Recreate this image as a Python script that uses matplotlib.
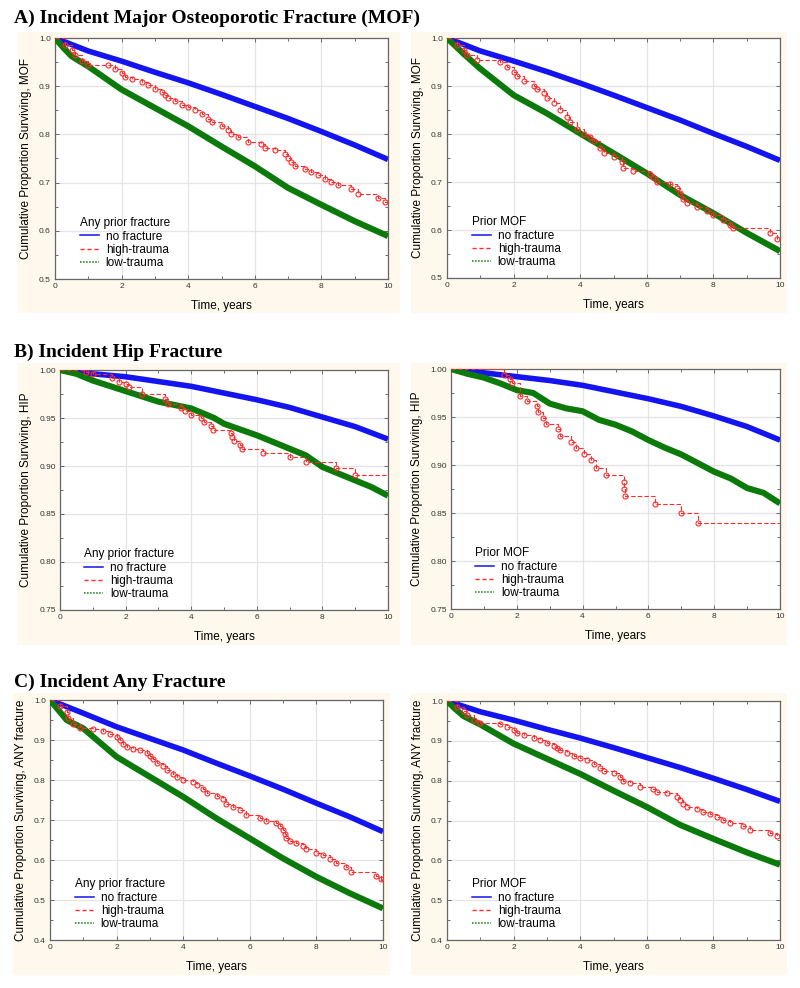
import numpy as np
import matplotlib
matplotlib.use('Agg')
import matplotlib.pyplot as plt
from matplotlib.lines import Line2D

plt.rcParams['font.family'] = ['Liberation Sans', 'DejaVu Sans']

# ---- data (time in years, cumulative proportion surviving) ----
yrs = [0, 1, 2, 3, 4, 5, 6, 7, 8, 9, 10]

# A) MOF, any prior fracture
a1_blue = [1.0, 0.973, 0.952, 0.929, 0.907, 0.883, 0.858, 0.833, 0.806, 0.778, 0.748]
a1_green_t = [0, 0.25, 0.5, 1, 2, 3, 4, 5, 6, 7, 8, 9, 10]
a1_green = [1.0, 0.98, 0.962, 0.941, 0.893, 0.855, 0.817, 0.775, 0.734, 0.689, 0.654, 0.620, 0.589]
a1_red_t = [0, 0.3, 0.5, 0.6, 0.8, 1.0, 1.6, 1.8, 2.0, 2.1, 2.3, 2.6, 2.8, 3.0, 3.2, 3.3, 3.4,
            3.6, 3.8, 4.0, 4.2, 4.4, 4.6, 4.7, 5.0, 5.2, 5.3, 5.5, 5.8, 6.2, 6.3, 6.6, 6.9, 7.0,
            7.1, 7.2, 7.5, 7.7, 7.9, 8.1, 8.3, 8.5, 8.9, 9.1, 9.7, 9.9, 10]
a1_red = [1.0, 0.985, 0.975, 0.965, 0.952, 0.945, 0.943, 0.935, 0.928, 0.920, 0.915, 0.908,
          0.902, 0.895, 0.888, 0.882, 0.876, 0.870, 0.862, 0.856, 0.851, 0.843, 0.832, 0.825,
          0.818, 0.810, 0.800, 0.795, 0.785, 0.780, 0.772, 0.768, 0.760, 0.752, 0.742, 0.735,
          0.728, 0.722, 0.716, 0.708, 0.702, 0.694, 0.686, 0.676, 0.668, 0.660, 0.660]

# A) MOF, prior MOF
a2_blue = [1.0, 0.973, 0.952, 0.930, 0.906, 0.881, 0.855, 0.829, 0.801, 0.774, 0.745]
a2_green_t = [0, 0.5, 1, 2, 3, 4, 5, 6, 7, 8, 9, 10]
a2_green = [1.0, 0.967, 0.936, 0.881, 0.843, 0.801, 0.760, 0.718, 0.673, 0.635, 0.594, 0.556]
a2_red_t = [0, 0.3, 0.5, 0.6, 0.9, 1.6, 1.8, 2.0, 2.1, 2.3, 2.6, 2.7, 2.9, 3.0, 3.2, 3.4, 3.6,
            3.7, 3.9, 4.1, 4.3, 4.4, 4.6, 4.7, 5.0, 5.25, 5.3, 5.6, 6.1, 6.2, 6.3, 6.7, 6.9, 7.0,
            7.1, 7.2, 7.5, 7.8, 8.0, 8.3, 8.5, 8.6, 9.7, 9.9, 10]
a2_red = [1.0, 0.985, 0.975, 0.965, 0.955, 0.950, 0.940, 0.930, 0.920, 0.910, 0.900, 0.893,
          0.885, 0.875, 0.865, 0.850, 0.835, 0.825, 0.810, 0.800, 0.793, 0.785, 0.770, 0.760,
          0.752, 0.742, 0.730, 0.722, 0.717, 0.710, 0.700, 0.695, 0.688, 0.678, 0.665, 0.657,
          0.648, 0.640, 0.632, 0.620, 0.610, 0.604, 0.593, 0.581, 0.581]

# B) Hip, any prior fracture
b1_blue = [1.0, 0.996, 0.993, 0.988, 0.983, 0.976, 0.969, 0.961, 0.951, 0.941, 0.928]
b1_green_t = [0, 0.5, 1, 2, 3, 4, 4.7, 5, 6, 7, 7.5, 8, 8.5, 9, 9.5, 10]
b1_green = [1.0, 0.996, 0.989, 0.978, 0.967, 0.960, 0.950, 0.944, 0.932, 0.918, 0.911, 0.899,
            0.892, 0.885, 0.878, 0.869]
b1_red_t = [0, 0.8, 1.0, 1.6, 1.8, 2.0, 2.1, 2.5, 3.2, 3.3, 3.7, 3.8, 4.0, 4.3, 4.4, 4.6, 4.65,
            5.2, 5.25, 5.3, 5.5, 5.55, 6.2, 7.0, 7.5, 8.4, 9.0, 10]
b1_red = [1.0, 0.998, 0.996, 0.992, 0.988, 0.985, 0.982, 0.975, 0.970, 0.965, 0.960, 0.957,
          0.953, 0.950, 0.946, 0.942, 0.938, 0.934, 0.930, 0.926, 0.922, 0.918, 0.914, 0.909,
          0.904, 0.898, 0.891, 0.891]

# B) Hip, prior MOF
b2_blue = [1.0, 0.996, 0.992, 0.988, 0.983, 0.976, 0.969, 0.961, 0.951, 0.940, 0.926]
b2_green_t = [0, 0.5, 1, 1.5, 2, 2.5, 3, 3.5, 4, 4.5, 5, 5.5, 6, 6.5, 7, 7.5, 8, 8.5, 9, 9.5, 10]
b2_green = [1.0, 0.995, 0.991, 0.985, 0.978, 0.975, 0.964, 0.959, 0.956, 0.947, 0.942, 0.935,
            0.926, 0.918, 0.911, 0.902, 0.893, 0.886, 0.876, 0.871, 0.860]
b2_red_t = [0, 1.6, 1.8, 1.85, 2.1, 2.3, 2.6, 2.65, 2.8, 2.9, 3.25, 3.3, 3.65, 3.8, 4.05, 4.25,
            4.4, 4.7, 5.25, 5.27, 5.3, 6.2, 7.0, 7.5, 10]
b2_red = [1.0, 0.994, 0.990, 0.985, 0.972, 0.967, 0.961, 0.955, 0.949, 0.943, 0.937, 0.930,
          0.924, 0.918, 0.911, 0.905, 0.897, 0.890, 0.882, 0.875, 0.868, 0.859, 0.850, 0.840,
          0.840]

# C) Any fracture, any prior fracture
c1_blue = [1.0, 0.967, 0.933, 0.904, 0.875, 0.842, 0.810, 0.777, 0.742, 0.708, 0.671]
c1_green_t = [0, 0.5, 1, 2, 3, 4, 5, 6, 7, 8, 9, 10]
c1_green = [1.0, 0.950, 0.929, 0.858, 0.808, 0.758, 0.704, 0.654, 0.604, 0.558, 0.517, 0.479]
c1_red_t = [0, 0.3, 0.5, 0.55, 0.7, 0.9, 1.3, 1.6, 1.8, 2.0, 2.1, 2.2, 2.3, 2.5, 2.7, 2.9, 3.0,
            3.1, 3.2, 3.4, 3.5, 3.7, 3.8, 4.0, 4.3, 4.4, 4.6, 4.7, 5.0, 5.2, 5.3, 5.5, 5.7, 5.9,
            6.3, 6.5, 6.8, 6.9, 7.0, 7.05, 7.1, 7.2, 7.4, 7.6, 7.7, 8.0, 8.2, 8.4, 8.6, 8.9, 9.05,
            9.8, 9.95, 10]
c1_red = [1.0, 0.985, 0.970, 0.955, 0.940, 0.930, 0.927, 0.922, 0.915, 0.908, 0.900, 0.890,
          0.882, 0.878, 0.875, 0.868, 0.860, 0.852, 0.843, 0.835, 0.826, 0.815, 0.808, 0.800,
          0.795, 0.788, 0.778, 0.768, 0.760, 0.752, 0.740, 0.733, 0.725, 0.712, 0.705, 0.698,
          0.692, 0.685, 0.675, 0.665, 0.655, 0.648, 0.642, 0.635, 0.628, 0.618, 0.612, 0.602,
          0.592, 0.582, 0.570, 0.560, 0.552, 0.552]

# C) Any fracture, prior MOF (same curves as panel A, any prior fracture, in the source)
c2_blue, c2_green_t, c2_green = a1_blue, a1_green_t, a1_green
c2_red_t, c2_red = a1_red_t, a1_red

BLUE = '#1414f0'
GREEN = '#0b7a0b'
RED = '#ff2a2a'
CREAM = '#fef9ec'

W, H = 800, 988
fig = plt.figure(figsize=(W / 100, H / 100), dpi=100)
fig.patch.set_facecolor('white')


def px_axes(x0, y0, x1, y1):
    return fig.add_axes([x0 / W, 1 - y1 / H, (x1 - x0) / W, (y1 - y0) / H])


def cream(x0, y0, x1, y1):
    bg = px_axes(x0, y0, x1, y1)
    bg.set_facecolor(CREAM)
    bg.set_xticks([])
    bg.set_yticks([])
    for s in bg.spines.values():
        s.set_visible(False)
    bg.set_zorder(-5)


def panel(box, bg, blue, gt, green, rt, red, ylim, ystep, ylabel, legtitle):
    cream(*bg)
    ax = px_axes(*box)
    ax.plot(yrs, blue, color=BLUE, lw=4.0, solid_capstyle='butt', zorder=3)
    ax.plot(gt, green, color=GREEN, lw=4.4, solid_capstyle='butt', zorder=4)
    ax.plot(rt, red, color=RED, lw=0.8, ls=(0, (4, 2)), drawstyle='steps-post', zorder=5)
    ax.plot(rt[1:-1], red[1:-1], ls='none', marker='o', ms=3.6, mfc='none', mec=RED,
            mew=0.8, zorder=6)
    ax.set_xlim(0, 10)
    ax.set_ylim(*ylim)
    ax.set_xticks([0, 2, 4, 6, 8, 10])
    yt = np.arange(ylim[0], ylim[1] + ystep / 2, ystep)
    ax.set_yticks(yt)
    fmt = '%.2f' if ystep < 0.1 else '%.1f'
    ax.set_yticklabels([fmt % v for v in yt])
    ax.set_xticks(np.arange(0, 10.5, 1), minor=True)
    ax.set_yticks(np.arange(ylim[0], ylim[1] + 1e-9, ystep / 2), minor=True)
    ax.grid(True, which='major', color='#e4e4e4', lw=0.9)
    ax.set_axisbelow(True)
    ax.tick_params(which='both', direction='in', top=True, right=True, labelsize=6,
                   colors='#555555', labelcolor='#333333', pad=3)
    ax.tick_params(which='major', length=3, width=0.6)
    ax.tick_params(which='minor', length=2, width=0.6)
    for s in ax.spines.values():
        s.set_color('#666666')
        s.set_linewidth(0.9)
    ax.set_xlabel('Time, years', fontsize=8.5, labelpad=7)
    ax.set_ylabel(ylabel, fontsize=8.5, labelpad=5)
    handles = [Line2D([], [], color=BLUE, lw=1.1),
               Line2D([], [], color=RED, lw=1.0, ls=(0, (3, 2))),
               Line2D([], [], color=GREEN, lw=1.1, ls=(0, (1, 1)))]
    leg = ax.legend(handles, ['no fracture', 'high-trauma', 'low-trauma'], title=legtitle,
                    loc='lower left', bbox_to_anchor=(0.06, 0.02), frameon=False,
                    fontsize=8.5, title_fontsize=8.5, handlelength=1.6, handletextpad=0.6,
                    labelspacing=0.12, borderaxespad=0)
    leg._legend_box.align = 'left'
    return ax


tfont = dict(family='Liberation Serif', fontweight='bold', fontsize=14)
fig.text(14 / W, 1 - 18 / H, 'A) Incident Major Osteoporotic Fracture (MOF)', va='center', **tfont)
fig.text(14 / W, 1 - 352 / H, 'B) Incident Hip Fracture', va='center', **tfont)
fig.text(14 / W, 1 - 682 / H, 'C) Incident Any Fracture', va='center', **tfont)

panel((55, 38, 388, 279), (18, 32, 400, 313), a1_blue, a1_green_t, a1_green, a1_red_t, a1_red,
      (0.5, 1.0), 0.1, 'Cumulative Proportion Surviving, MOF', 'Any prior fracture')
panel((447, 38, 780, 278), (411, 32, 787, 313), a2_blue, a2_green_t, a2_green, a2_red_t, a2_red,
      (0.5, 1.0), 0.1, 'Cumulative Proportion Surviving, MOF', 'Prior MOF')
panel((60, 370, 388, 610), (18, 363, 400, 645), b1_blue, b1_green_t, b1_green, b1_red_t, b1_red,
      (0.75, 1.0), 0.05, 'Cumulative Proportion Surviving, HIP', 'Any prior fracture')
panel((451, 369, 780, 609), (411, 363, 787, 645), b2_blue, b2_green_t, b2_green, b2_red_t, b2_red,
      (0.75, 1.0), 0.05, 'Cumulative Proportion Surviving, HIP', 'Prior MOF')
panel((50, 700, 383, 940), (13, 693, 390, 975), c1_blue, c1_green_t, c1_green, c1_red_t, c1_red,
      (0.4, 1.0), 0.1, 'Cumulative Proportion Surviving, ANY fracture', 'Any prior fracture')
panel((447, 701, 780, 940), (411, 693, 787, 975), c2_blue, c2_green_t, c2_green, c2_red_t, c2_red,
      (0.4, 1.0), 0.1, 'Cumulative Proportion Surviving, ANY fracture', 'Prior MOF')

fig.savefig('out.png', dpi=100, facecolor='white')
